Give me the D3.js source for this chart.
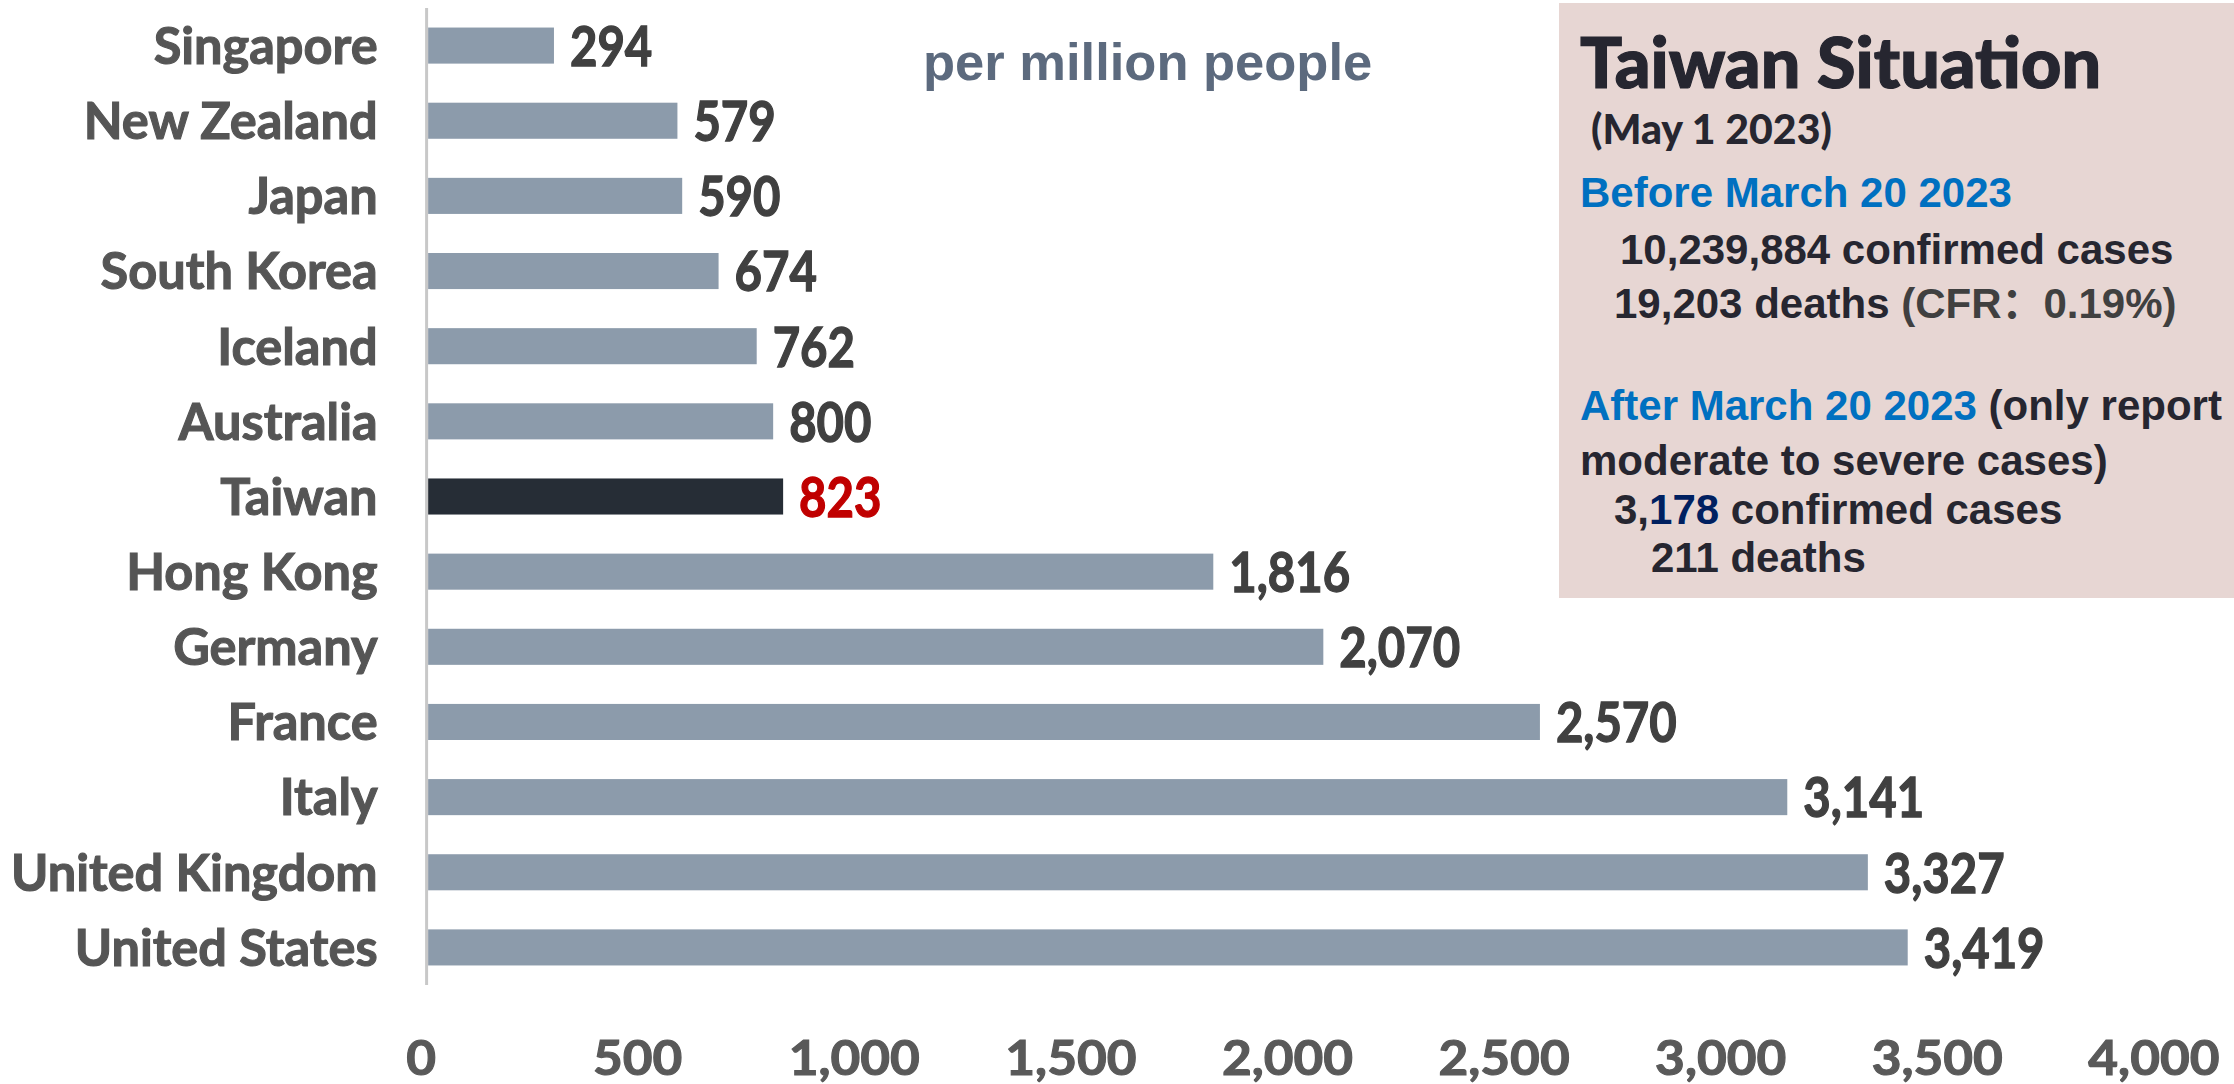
<!DOCTYPE html>
<html>
<head>
<meta charset="utf-8">
<script src="https://cdn.jsdelivr.net/npm/d3@7/dist/d3.min.js"></script>
<style>
  html, body { margin: 0; padding: 0; background: #ffffff; }
  svg { display: block; }
</style>
</head>
<body>
<svg id="chart" width="2234" height="1084"></svg>
<script>
// ---------- data ----------
const categories = ["Singapore", "New Zealand", "Japan", "South Korea", "Iceland", "Australia",
  "Taiwan", "Hong Kong", "Germany", "France", "Italy", "United Kingdom", "United States"];
const values = [294, 579, 590, 674, 762, 800, 823, 1816, 2070, 2570, 3141, 3327, 3419];
const highlightCategory = "Taiwan";
const xTickValues = [0, 500, 1000, 1500, 2000, 2500, 3000, 3500, 4000];
const unitText = "per million people";

const boxTitle = "Taiwan Situation";
const boxDate = "(May 1 2023)";
const boxLines = [
  { indent: 0, segs: [["Before March 20 2023", "blue"]] },
  { indent: 40, segs: [["10,239,884 confirmed cases", "dark"]] },
  { indent: 34, segs: [["19,203 deaths ", "dark"], ["(CFR\uFF1A0.19%)", "grey"]] },
  { indent: 0, segs: [["After March 20 2023", "blue"], [" (only report", "dark"]] },
  { indent: 0, segs: [["moderate to severe cases)", "dark"]] },
  { indent: 34, segs: [["3,", "dark"], ["178", "navy"], [" confirmed cases", "dark"]] },
  { indent: 71, segs: [["211 deaths", "dark"]] }
];
const boxLineBaselines = [207, 264, 318, 420, 475, 524, 572];

// ---------- styles ----------
const labelFont = "Lato, 'Open Sans', sans-serif";
const arial = "'Liberation Sans', Arial, 'Noto Sans CJK SC', sans-serif";
const colors = {
  bar: "#8c9bab", barHi: "#262d36",
  cat: "#555555", val: "#404040", valHi: "#c00000", tick: "#595959",
  axis: "#c8c8c8", unit: "#5c6a7e",
  box: "#e7d6d3", blue: "#0070c0", dark: "#262630", grey: "#404040", navy: "#002060"
};

// horizontally condense/stretch text (the original uses a narrow typeface)
function condense(sel, factor) {
  sel.each(function () {
    const w = this.getComputedTextLength();
    d3.select(this).attr("textLength", w * factor).attr("lengthAdjust", "spacingAndGlyphs");
  });
}
// slightly heavier strokes, like the original's bold face
function heavy(sel, w) {
  sel.attr("stroke", function () { return d3.select(this).attr("fill"); })
     .attr("stroke-width", w).attr("paint-order", "stroke");
}

const svg = d3.select("#chart");

// ---------- scales ----------
const x = d3.scaleLinear().domain([0, 4000]).range([426.6, 2159.4]);
const y = d3.scaleBand().domain(categories).range([8, 985]).paddingInner(0.52).paddingOuter(0.26);

const data = categories.map((c, i) => ({ cat: c, val: values[i] }));

// ---------- info box ----------
const box = svg.append("g");
box.append("rect").attr("x", 1559).attr("y", 3).attr("width", 2234 - 1559).attr("height", 595)
  .attr("fill", colors.box);
box.append("text").attr("x", 1580).attr("y", 88)
  .attr("font-family", "Lato, 'DejaVu Sans', sans-serif").attr("font-weight", 900)
  .attr("font-size", 70).attr("fill", colors.dark).text(boxTitle).call(heavy, 1.2);
box.append("text").attr("x", 1591).attr("y", 144)
  .attr("font-family", "Lato, 'DejaVu Sans', sans-serif").attr("font-weight", 900)
  .attr("font-size", 41).attr("fill", colors.dark).text(boxDate);
boxLines.forEach((ln, i) => {
  const t = box.append("text").attr("x", 1580 + ln.indent).attr("y", boxLineBaselines[i])
    .attr("font-family", arial).attr("font-weight", "bold").attr("font-size", 42);
  ln.segs.forEach(s => t.append("tspan").attr("fill", colors[s[1]]).text(s[0]));
});

// ---------- unit label ----------
svg.append("text").attr("x", 923).attr("y", 80)
  .attr("font-family", arial).attr("font-weight", "bold").attr("font-size", 52.5)
  .attr("fill", colors.unit).text(unitText);

// ---------- bars ----------
svg.append("g").selectAll("rect").data(data).join("rect")
  .attr("x", x(0) + 1.5)
  .attr("y", d => y(d.cat))
  .attr("width", d => x(d.val) - x(0) - 1.5)
  .attr("height", y.bandwidth())
  .attr("fill", d => d.cat === highlightCategory ? colors.barHi : colors.bar);

// ---------- value labels ----------
const fmt = d3.format(",");
svg.append("g").selectAll("text").data(data).join("text")
  .attr("x", d => x(d.val) + 16)
  .attr("y", d => y(d.cat) + y.bandwidth() / 2)
  .attr("dy", "0.37em")
  .attr("font-family", labelFont).attr("font-weight", "bold").attr("font-size", 55)
  .attr("fill", d => d.cat === highlightCategory ? colors.valHi : colors.val)
  .text(d => fmt(d.val))
  .call(condense, 0.86)
  .call(heavy, 1.3);

// ---------- y axis (category labels + line) ----------
const yAxis = d3.axisLeft(y).tickSize(0).tickPadding(49);
const gy = svg.append("g").attr("transform", `translate(${x(0)},0)`).call(yAxis);
gy.select(".domain").attr("stroke", colors.axis).attr("stroke-width", 3)
  .attr("d", `M0,${y.range()[0]}V${y.range()[1]}`);
gy.selectAll("text")
  .attr("font-family", labelFont).attr("font-weight", "bold").attr("font-size", 51)
  .attr("fill", colors.cat).attr("dy", "0.36em")
  .call(condense, 0.99)
  .call(heavy, 1.1);

// ---------- x axis (tick labels only) ----------
const xAxis = d3.axisBottom(x).tickValues(xTickValues).tickFormat(fmt).tickSize(0).tickPadding(0);
const gx = svg.append("g").attr("transform", "translate(-6,1041)").call(xAxis);
gx.select(".domain").remove();
gx.selectAll("text")
  .attr("font-family", labelFont).attr("font-weight", "bold").attr("font-size", 48)
  .attr("fill", colors.tick).attr("dy", "0.71em")
  .call(condense, 1.07)
  .call(heavy, 1.1);
</script>
</body>
</html>
